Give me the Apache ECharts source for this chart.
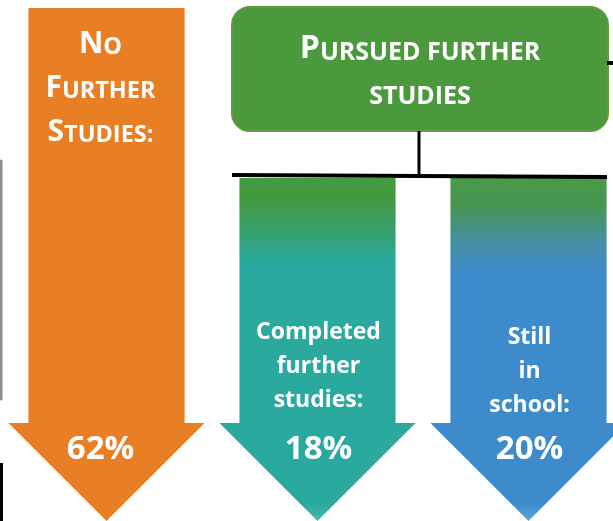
<!DOCTYPE html>
<html>
<head>
<meta charset="utf-8">
<script src="https://cdn.jsdelivr.net/npm/echarts@6/dist/echarts.min.js"></script>
<style>
  html, body { margin: 0; padding: 0; background: #fff; }
  #main { width: 613px; height: 521px; }
</style>
</head>
<body>
<div id="main"></div>
<script>
// outcome groups and their shares (%)
const groups = ['No further studies', 'Completed further studies', 'Still in school'];
const shares = [62, 18, 20];
// label lines written inside each arrow
const armLines = [
    ['No', 'Further', 'Studies:'],
    ['Completed', 'further', 'studies:'],
    ['Still', 'in', 'school:']
];
const headerLines = ['Pursued further', 'studies'];

const FONT = '"Open Sans", "Noto Sans", sans-serif';

// turn "Further" into "{cap|F}{sc|URTHER}"
function smallCaps(str) {
    let out = '';
    let cur = null, buf = '';
    for (const ch of str) {
        const kind = (ch !== ch.toLowerCase()) ? 'cap' : 'sc';
        if (kind !== cur && buf) { out += '{' + cur + '|' + buf + '}'; buf = ''; }
        cur = kind;
        buf += ch.toUpperCase();
    }
    if (buf) out += '{' + cur + '|' + buf + '}';
    return out;
}

function grad(stops) {
    return new echarts.graphic.LinearGradient(0, 0, 0, 1,
        stops.map(s => ({ offset: s[0], color: s[1] })));
}

const fills = [
    '#e97f24',
    grad([[0, '#46993f'], [0.06, '#44993f'], [0.25, '#2aa99f'], [0.95, '#2aa99f'], [1, '#4cb8b0']]),
    grad([[0, '#4a9a48'], [0.08, '#489552'], [0.18, '#4590a0'], [0.27, '#3e8bcc'], [0.95, '#3e8bcc'], [1, '#63a3d8']])
];

let myChart = echarts.init(document.getElementById('main'));

// layout (pixels on the hidden y axis)
const shaftTops = [8, 178, 178];
const headTop = 423;
const tipY = 521;

function renderArrow(params, api) {
    const i = api.value(0);
    const band = api.size([1, 0])[0];
    const x = api.coord([i, 0])[0];
    const top = api.coord([i, shaftTops[i]])[1];
    const neck = api.coord([i, headTop])[1];
    const tip = api.coord([i, tipY])[1];
    const sw = band * 0.37, hw = band * 0.465;

    const children = [{
        type: 'polygon',
        shape: { points: [[x - sw, top], [x + sw, top], [x + sw, neck], [x + hw, neck], [x, tip], [x - hw, neck], [x - sw, neck]] },
        style: { fill: fills[i] }
    }];

    if (i === 0) {
        children.push({
            type: 'text', x: x - 6, y: 81,
            style: {
                text: armLines[i].map(smallCaps).join('\n'),
                align: 'center', verticalAlign: 'middle', lineHeight: 44, fill: '#fff',
                rich: {
                    cap: { fontFamily: FONT, fontWeight: 'bold', fontSize: 30, fill: '#fff', verticalAlign: 'bottom' },
                    sc: { fontFamily: FONT, fontWeight: 'bold', fontSize: 23.5, fill: '#fff', verticalAlign: 'bottom' }
                }
            }
        });
    } else {
        children.push({
            type: 'text', x: x + 1, y: i === 1 ? 366 : 371,
            style: {
                text: armLines[i].join('\n'),
                align: 'center', verticalAlign: 'middle', lineHeight: 34,
                font: 'bold 23px ' + FONT, fill: '#fff'
            }
        });
    }
    children.push({
        type: 'text', x: i === 0 ? x - 6 : x + 1, y: 450,
        style: {
            text: api.value(1) + '%',
            align: 'center', verticalAlign: 'middle',
            font: 'bold 33px ' + FONT, fill: '#fff'
        }
    });
    return { type: 'group', children: children };
}

const option = {
    animation: false,
    grid: { left: 1, top: 0, width: 633, height: 521, outerBoundsMode: 'none', containLabel: false },
    xAxis: { type: 'category', data: groups, show: false },
    yAxis: { type: 'value', min: 0, max: 521, inverse: true, show: false },
    series: [{
        type: 'custom',
        renderItem: renderArrow,
        data: shares.map((v, i) => [i, v]),
        z: 1
    }],
    graphic: [
        {
            type: 'rect', z: 2,
            shape: { x: 232, y: 7, width: 376, height: 124, r: 18 },
            style: { fill: '#4a993c', stroke: '#5f9a40', lineWidth: 2 }
        },
        {
            type: 'text', z: 3, x: 420, y: 65,
            style: {
                text: headerLines.map(smallCaps).join('\n'),
                align: 'center', verticalAlign: 'middle', lineHeight: 44, fill: '#fff',
                rich: {
                    cap: { fontFamily: FONT, fontWeight: 'bold', fontSize: 32, fill: '#fff', verticalAlign: 'bottom' },
                    sc: { fontFamily: FONT, fontWeight: 'bold', fontSize: 25, fill: '#fff', verticalAlign: 'bottom' }
                }
            }
        },
        { type: 'line', z: 2, shape: { x1: 419, y1: 131, x2: 419, y2: 176 }, style: { stroke: '#000', lineWidth: 3 } },
        { type: 'line', z: 2, shape: { x1: 232, y1: 175, x2: 607, y2: 177 }, style: { stroke: '#000', lineWidth: 4 } },
        { type: 'line', z: 2, shape: { x1: 607, y1: 63, x2: 613, y2: 63 }, style: { stroke: '#000', lineWidth: 4 } },
        { type: 'line', z: 2, shape: { x1: 1, y1: 161, x2: 1, y2: 399 }, style: { stroke: '#8c8c8c', lineWidth: 3, lineCap: 'round' } },
        { type: 'line', z: 2, shape: { x1: 1.5, y1: 463, x2: 1.5, y2: 521 }, style: { stroke: '#000', lineWidth: 3 } }
    ]
};
myChart.setOption(option);
</script>
</body>
</html>
